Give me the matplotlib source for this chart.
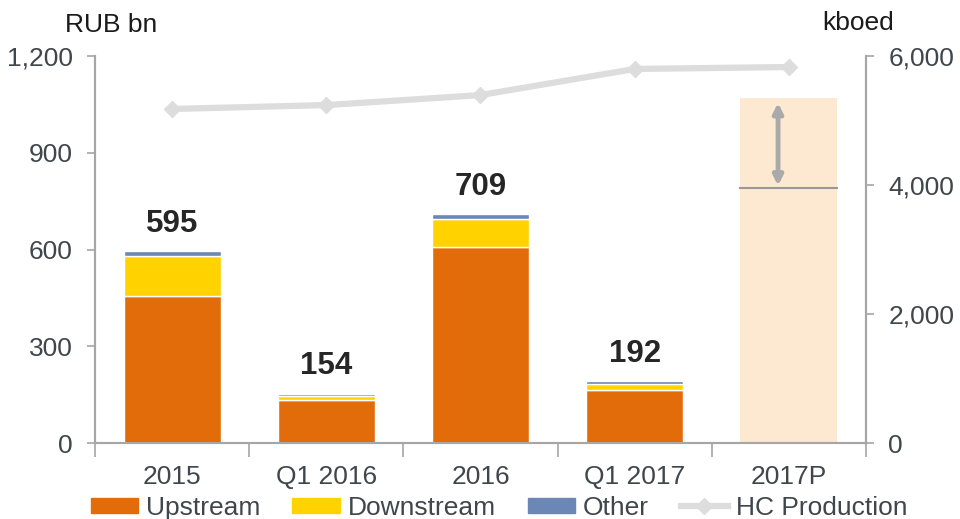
import numpy as np
import matplotlib
matplotlib.use("Agg")
import matplotlib.pyplot as plt
from matplotlib.patches import Patch
from matplotlib.lines import Line2D

plt.rcParams["font.family"] = ["Liberation Sans", "DejaVu Sans"]

periods = ["2015", "Q1 2016", "2016", "Q1 2017", "2017P"]
upstream = [456, 133, 609, 165]
downstream = [124, 14, 85, 18]
other = [15, 7, 15, 9]
totals = [595, 154, 709, 192]
hc_production = [5180, 5240, 5395, 5800, 5830]
plan_2017_high = 1070
plan_2017_low = 790

c_up = "#E36C0A"
c_down = "#FFD200"
c_oth = "#6A87B5"
c_hc = "#DDDDDD"
c_txt = "#3F464C"
c_spine = "#A6A6A6"
fs = 19

fig = plt.figure(figsize=(9.6, 5.19), dpi=100)
ax = fig.add_axes([0.099, 0.146, 0.803, 0.746])
ax2 = ax.twinx()

x = np.arange(4)
w = 0.63
up = np.array(upstream)
dn = np.array(downstream)
ot = np.array(other)
ax.bar(x, up, w, color=c_up, edgecolor="white", linewidth=1, zorder=3)
ax.bar(x, dn, w, bottom=up, color=c_down, edgecolor="white", linewidth=1, zorder=3)
ax.bar(x, ot, w, bottom=up + dn, color=c_oth, edgecolor="white", linewidth=1, zorder=3)
for xi, t in zip(x, totals):
    ax.text(xi, t + 38, str(t), ha="center", va="bottom", fontsize=22.5,
            fontweight="bold", color="#262626")

# 2017 plan range
ax.bar(4, plan_2017_high, w, color="#FDE9D1", zorder=2)
ax.plot([4 - w / 2, 4 + w / 2], [plan_2017_low, plan_2017_low], color="#999999", lw=1.5, zorder=3)
ax.annotate("", xy=(3.93, plan_2017_low + 8), xytext=(3.93, plan_2017_high - 15),
            arrowprops=dict(arrowstyle="<|-|>", color="#AAAAAA", lw=3.5,
                            mutation_scale=14, shrinkA=0, shrinkB=0), zorder=4)

ax2.plot(np.arange(5), hc_production, color=c_hc, lw=4.5, marker="D",
         markersize=8, zorder=5)

ax.set_xlim(-0.49, 4.5)
ax.set_ylim(0, 1200)
ax2.set_ylim(0, 6000)
ax.set_yticks([0, 300, 600, 900, 1200])
ax.set_yticklabels(["0", "300", "600", "900", "1,200"])
ax2.set_yticks([0, 2000, 4000, 6000])
ax2.set_yticklabels(["0", "2,000", "4,000", "6,000"])
ax.set_xticks(range(5))
ax.set_xticklabels(periods)
ax.set_xticks(np.arange(-0.5, 5, 1), minor=True)
ax.tick_params(axis="x", which="major", length=0, pad=16, labelsize=fs, labelcolor=c_txt)
ax.tick_params(axis="x", which="minor", length=10, color=c_spine, width=1.2)
ax.tick_params(axis="y", length=6, color=c_spine, width=1.2, labelsize=fs, labelcolor=c_txt, pad=10)
ax2.tick_params(axis="y", length=6, color=c_spine, width=1.2, labelsize=fs, labelcolor=c_txt, pad=10)

for a in (ax, ax2):
    a.spines["top"].set_visible(False)
    for s in ("left", "right", "bottom"):
        a.spines[s].set_color(c_spine)
        a.spines[s].set_linewidth(1.5)
ax.set_zorder(ax2.get_zorder() - 1)
ax.patch.set_visible(True)
ax2.patch.set_visible(False)

fig.text(0.068, 0.952, "RUB bn", fontsize=fs, color="#1A1A1A", ha="left", va="center")
fig.text(0.857, 0.955, "kboed", fontsize=fs, color="#1A1A1A", ha="left", va="center")

handles = [
    Patch(color=c_up),
    Patch(color=c_down),
    Patch(color=c_oth),
    Line2D([0], [0], color=c_hc, lw=4.5, marker="D", markersize=8),
]
fig.legend(handles, ["Upstream", "Downstream", "Other", "HC Production"],
           loc="center", bbox_to_anchor=(0.52, 0.022), ncol=4, frameon=False,
           fontsize=fs, labelcolor=c_txt, handlelength=1.8, handleheight=0.5,
           columnspacing=1.2, handletextpad=0.3, borderpad=0)

fig.savefig("out.png", dpi=100)
